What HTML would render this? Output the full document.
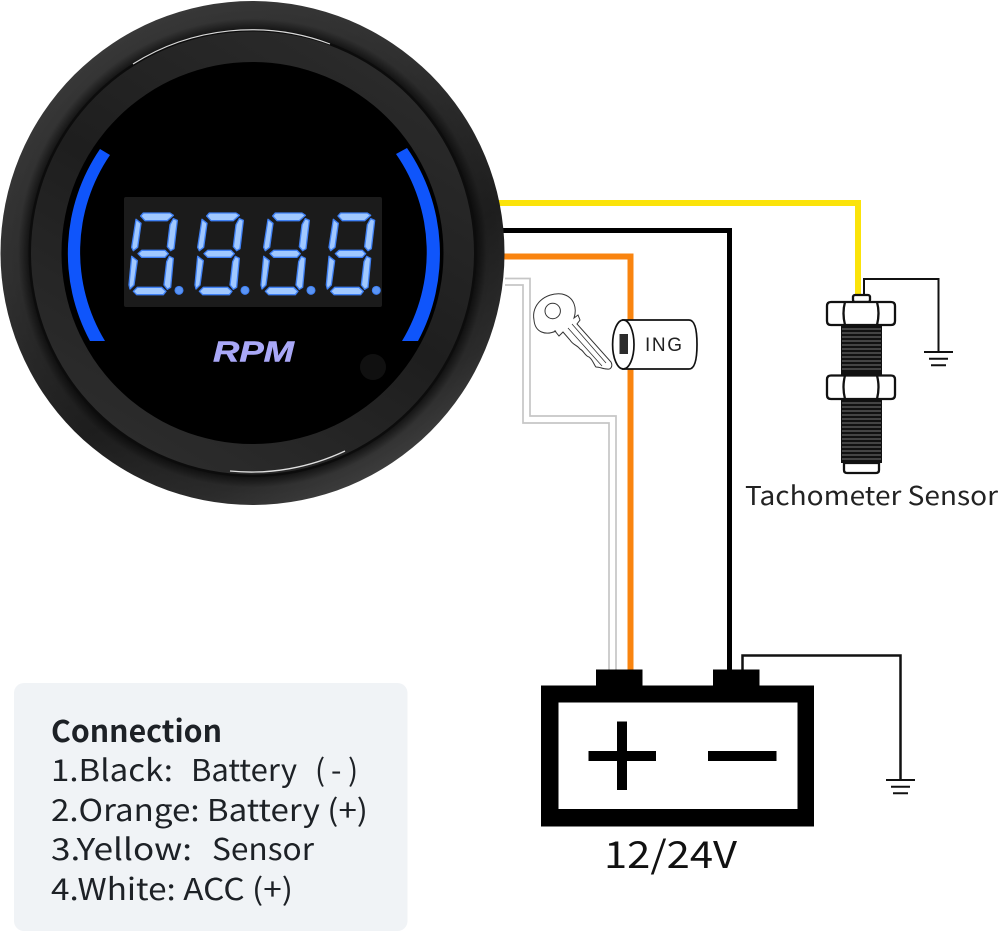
<!DOCTYPE html>
<html><head><meta charset="utf-8"><style>
html,body{margin:0;padding:0;background:#fff;width:1000px;height:933px;overflow:hidden}
svg{display:block}
.t{font-family:"Noto Sans CJK SC","Liberation Sans",sans-serif;fill:#1d2126}
</style></head><body>
<svg width="1000" height="933" viewBox="0 0 1000 933" xmlns="http://www.w3.org/2000/svg">
<defs>
<linearGradient id="rim" x1="0.2" y1="0" x2="0.75" y2="1">
<stop offset="0" stop-color="#3a3a3a"/><stop offset="0.35" stop-color="#303030"/><stop offset="0.65" stop-color="#1e1e1e"/><stop offset="0.85" stop-color="#2c2c2c"/><stop offset="1" stop-color="#444"/>
</linearGradient>
<linearGradient id="bez" x1="0.8" y1="0" x2="0.2" y2="1">
<stop offset="0" stop-color="#2c2c2c"/><stop offset="0.5" stop-color="#1e1e1e"/><stop offset="1" stop-color="#2e2e2e"/>
</linearGradient>
<radialGradient id="rimR" cx="0.5" cy="0.5" r="0.5">
<stop offset="0.88" stop-color="#000" stop-opacity=".7"/><stop offset="0.93" stop-color="#000" stop-opacity=".05"/><stop offset="1" stop-color="#000" stop-opacity="0"/>
</radialGradient>
<g id="d" fill="#a0c8ff" stroke="#3f80f4" stroke-width="4" stroke-linejoin="round">
<path d="M100 69H180L190 76L172 92H105L92 78Z"/>
<path d="M78 88L93 100L83 172L70 182L65 172Z"/>
<path d="M190 86L202 91L192 176L182 182L172 170L180 104Z"/>
<path d="M95 181H165L175 191L165 202H95L84 191Z"/>
<path d="M65 199L82 212L72 285L60 297L57 285Z"/>
<path d="M178 199L190 205L182 292L172 298L162 285L170 215Z"/>
<path d="M82 292H155L168 304L160 314H80L70 304Z"/>
<circle cx="207" cy="301" r="12" fill="#5b95f5" stroke="#3f80f4" stroke-width="3"/>
</g>
<g id="gnd" stroke="#111" stroke-width="2" fill="none">
<path d="M-14.5 0H14.5M-9.500 6.700H9.500M-7.500 13.300H7.500"/>
</g>
</defs>

<!-- panel -->
<rect x="14" y="683" width="393.500" height="248" rx="10" fill="#f0f3f6"/>
<text class="t" font-size="30" font-weight="700" x="51" y="742" textLength="171" lengthAdjust="spacingAndGlyphs">Connection</text>
<g class="t" font-size="30">
<text class="t" x="51" y="781" textLength="122" lengthAdjust="spacingAndGlyphs">1.Black:</text>
<text class="t" x="191" y="781" textLength="106" lengthAdjust="spacingAndGlyphs">Battery</text>
<text class="t" x="315" y="781">(</text><text class="t" x="331" y="781">-</text><text class="t" x="348" y="781">)</text>
<text class="t" x="51" y="821" textLength="317" lengthAdjust="spacingAndGlyphs">2.Orange: Battery (+)</text>
<text class="t" x="51" y="860" textLength="141" lengthAdjust="spacingAndGlyphs">3.Yellow:</text>
<text class="t" x="212" y="860" textLength="102" lengthAdjust="spacingAndGlyphs">Sensor</text>
<text class="t" x="51" y="900" textLength="242" lengthAdjust="spacingAndGlyphs">4.White: ACC (+)</text>
</g>

<!-- wires -->
<g fill="none">
<path d="M505 285H523V423H609V670M505 278.500H530V416H616V670" stroke="#c6c6c6" stroke-width="1.700"/>
<path d="M490 203H858V296" stroke="#fbe30a" stroke-width="6"/>
<path d="M490 230.500H729.500V672" stroke="#000" stroke-width="5"/>
<path d="M490 256.500H630.500V672" stroke="#f9840f" stroke-width="6"/>
<path d="M864 296V279H938.500V352" stroke="#111" stroke-width="2"/>
<path d="M742.500 672V655.500H900.500V780" stroke="#111" stroke-width="2.500"/>
</g>
<use href="#gnd" x="938.500" y="352"/>
<use href="#gnd" x="900.500" y="780"/>

<!-- gauge -->
<circle cx="252.500" cy="253" r="252" fill="url(#rim)"/>
<circle cx="252.500" cy="253" r="252" fill="url(#rimR)"/>
<circle cx="252.500" cy="253" r="224" fill="#0c0c0c"/>
<circle cx="252.500" cy="253" r="221.500" fill="url(#bez)"/>
<path d="M133 64A223 223 0 0 1 330 44" fill="none" stroke="#d8d8d8" stroke-width="1.200"/>
<path d="M230 471A219 219 0 0 0 345 451" fill="none" stroke="#e0e0e0" stroke-width="1.300"/>
<circle cx="252.500" cy="253" r="191" fill="#000"/>
<path d="M100 149L110 155A172 172 0 0 0 105 341L90 341A185 185 0 0 1 100 149Z" fill="#0f55fb"/>
<path d="M396 154L407 148A185.500 185.500 0 0 1 418 341L402 341A172 172 0 0 0 396 154Z" fill="#0f55fb"/>
<rect x="124" y="197" width="258" height="110" rx="2" fill="#1b1b1b"/>
<g transform="translate(110 190) scale(.33333)">
<use href="#d"/><use href="#d" x="198"/><use href="#d" x="396"/><use href="#d" x="592"/>
</g>
<text x="213" y="361.500" font-family="'Liberation Sans',sans-serif" font-weight="700" font-style="italic" font-size="29" fill="#a9a8f7" stroke="#a9a8f7" stroke-width=".5" textLength="81" lengthAdjust="spacingAndGlyphs">RPM</text>
<circle cx="373" cy="367" r="13" fill="#101010"/>

<!-- key -->
<g fill="#fff" stroke="#333" stroke-width="1">
<path d="M534 320C531 305 545 292 562 294C575 297 577 309 574 318L578 315L580 320L577 324L611 362C613 366 611 370 607 369C603 369 600 367 596 367C594 365 593 360 589 357C585 356 584 351 580 349C577 345 573 345 570 340L563 332L559 336L555 331L556 331C545 336 535 332 534 320Z"/>
<circle cx="552.700" cy="311" r="7.700"/>
<path d="M572 324L606 363M568 328L602 366" stroke-width=".8"/>
</g>

<!-- ignition -->
<path d="M623 320H689Q697 320 697 344.500Q697 369 689 369H623Z" fill="#fff" stroke="#111" stroke-width="1.700"/>
<ellipse cx="623.300" cy="344.500" rx="10.700" ry="24.500" fill="#fff" stroke="#111" stroke-width="1.700"/>
<rect x="619.500" y="334" width="8.500" height="20" fill="#2c2c2c"/>
<text x="645" y="351" font-family="'Liberation Sans',sans-serif" font-size="19" fill="#222" textLength="37" lengthAdjust="spacing">ING</text>

<!-- sensor -->
<rect x="841" y="326" width="41" height="49" fill="#111"/>
<rect x="841" y="400" width="41" height="63" fill="#111"/>
<g stroke="#999" stroke-width=".8">
<path d="M842 329H881M842 333H881M842 337H881M842 341H881M842 345H881M842 349H881M842 353H881M842 357H881M842 361H881M842 365H881M842 369H881"/>
<path d="M842 403H881M842 407H881M842 411H881M842 415H881M842 419H881M842 423H881M842 427H881M842 431H881M842 435H881M842 439H881M842 443H881M842 447H881M842 451H881M842 455H881M842 459H881"/>
</g>
<g fill="#fff" stroke="#111" stroke-width="2.300">
<rect x="853" y="295" width="17" height="7" rx="2"/>
<path d="M831 302H891Q895 302 895 306V321Q895 325 891 325H831Q827 325 827 321V306Q827 302 831 302Z"/>
<path d="M845 302Q842 313 845 325M877 302Q880 313 877 325"/>
<path d="M831 375.500H891Q895 375.500 895 379.500V395Q895 399 891 399H831Q827 399 827 395V379.500Q827 375.500 831 375.500Z"/>
<path d="M845 375.500Q842 387 845 399M877 375.500Q880 387 877 399"/>
<path d="M844 463H879V470Q879 473 876 473H847Q844 473 844 470Z"/>
</g>
<text class="t" x="745" y="505" font-size="26" textLength="253" lengthAdjust="spacingAndGlyphs" style="fill:#222">Tachometer Sensor</text>

<!-- battery -->
<path fill-rule="evenodd" fill="#000" d="M541 685.500H596V669.500H642.500V685.500H713V669.500H759.500V685.500H814V826.500H541ZM558.500 702.500V809H797.500V702.500Z"/>
<path fill="#000" d="M588.500 751H617V721.500H627V751H656V761H627V790H617V761H588.500ZM708 751H776.500V761H708Z"/>
<text class="t" x="604" y="868" font-size="37" textLength="133" lengthAdjust="spacingAndGlyphs" style="fill:#111">12/24V</text>
</svg>
</body></html>
